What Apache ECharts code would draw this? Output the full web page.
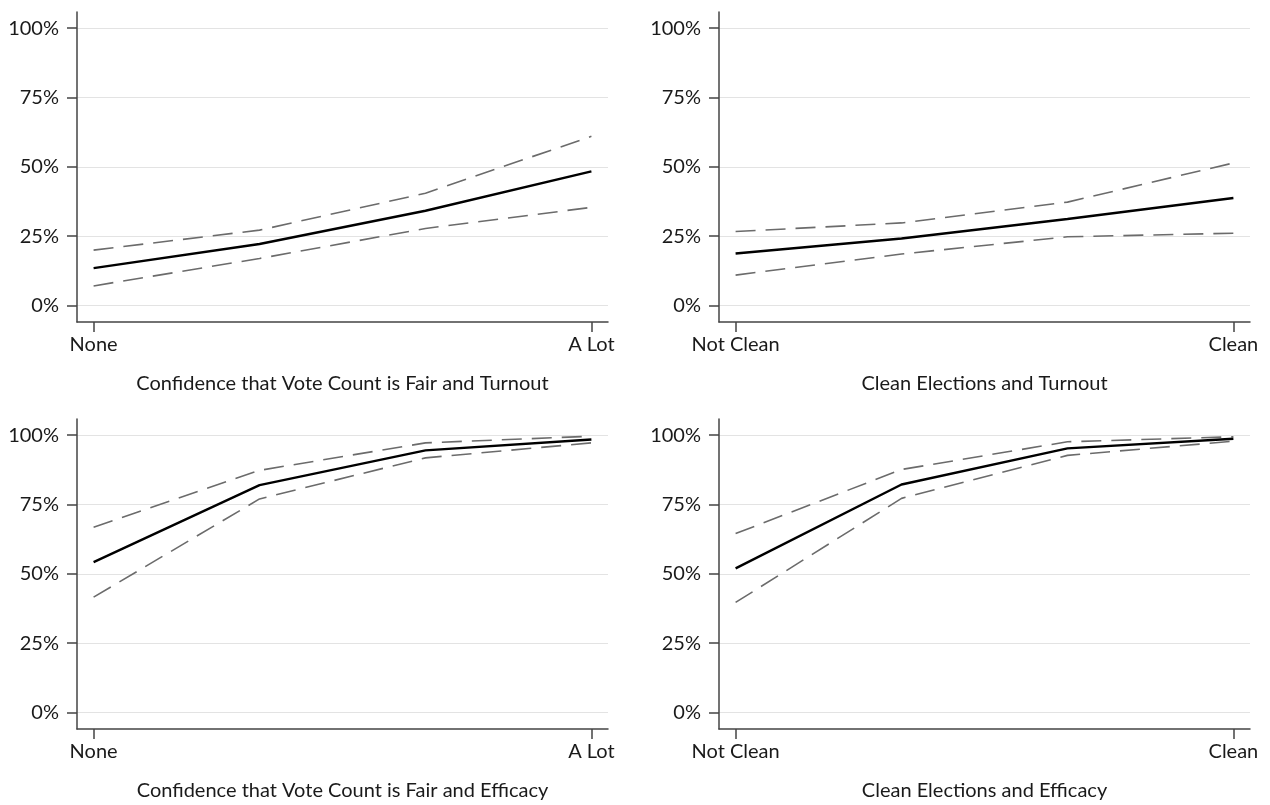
<!DOCTYPE html>
<html>
<head>
<meta charset="utf-8">
<script src="https://cdn.jsdelivr.net/npm/echarts@6/dist/echarts.min.js"></script>
<style>
  html, body { margin: 0; padding: 0; background: #fff; }
  #main { width: 1270px; height: 805px; }
</style>
</head>
<body>
<div id="main"></div>
<script>
// x positions (4 levels, only the ends are labelled)
var levels = [0, 1, 2, 3];
var yTicks = [0, 25, 50, 75, 100];

// panel 1: confidence in vote count -> turnout
var fairTurnout = [13.5, 22.2, 34.2, 48.4];
var fairTurnoutHi = [20.0, 27.2, 40.5, 61.0];
var fairTurnoutLo = [7.1, 17.0, 27.8, 35.4];

// panel 2: clean elections -> turnout
var cleanTurnout = [18.8, 24.2, 31.2, 38.8];
var cleanTurnoutHi = [26.7, 29.8, 37.3, 51.4];
var cleanTurnoutLo = [11.0, 18.6, 24.8, 26.1];

// panel 3: confidence in vote count -> efficacy
var fairEfficacy = [54.2, 82.0, 94.5, 98.4];
var fairEfficacyHi = [66.8, 87.3, 97.2, 99.6];
var fairEfficacyLo = [41.6, 77.0, 91.8, 97.2];

// panel 4: clean elections -> efficacy
var cleanEfficacy = [52.0, 82.2, 95.2, 98.7];
var cleanEfficacyHi = [64.5, 87.6, 97.6, 99.4];
var cleanEfficacyLo = [39.7, 77.2, 92.7, 97.8];

var panels = [
    {title: 'Confidence that Vote Count is Fair and Turnout', ends: ['None', 'A Lot'], mid: fairTurnout, hi: fairTurnoutHi, lo: fairTurnoutLo},
    {title: 'Clean Elections and Turnout', ends: ['Not Clean', 'Clean'], mid: cleanTurnout, hi: cleanTurnoutHi, lo: cleanTurnoutLo},
    {title: 'Confidence that Vote Count is Fair and Efficacy', ends: ['None', 'A Lot'], mid: fairEfficacy, hi: fairEfficacyHi, lo: fairEfficacyLo},
    {title: 'Clean Elections and Efficacy', ends: ['Not Clean', 'Clean'], mid: cleanEfficacy, hi: cleanEfficacyHi, lo: cleanEfficacyLo}
];

var grids = [
    {left: 77, right: 662, top: 12, bottom: 483},
    {left: 719, right: 20, top: 12, bottom: 483},
    {left: 77, right: 662, top: 419, bottom: 76},
    {left: 719, right: 20, top: 419, bottom: 76}
];

var font = 'Lato, "Noto Sans", sans-serif';
var textColor = '#1a1a1a';
var axisColor = '#444';

function pairs(vals) {
    return levels.map(function (x, i) { return [x, vals[i]]; });
}

var xAxes = [], yAxes = [], series = [];
panels.forEach(function (p, i) {
    xAxes.push({
        type: 'value',
        gridIndex: i,
        min: -0.1,
        max: 3.1,
        name: p.title,
        nameLocation: 'middle',
        nameGap: 52,
        nameTextStyle: {fontFamily: font, fontSize: 20, color: textColor},
        axisLine: {show: true, onZero: false, lineStyle: {color: axisColor, width: 1.5}},
        axisTick: {show: true, length: 10, customValues: [0, 3], lineStyle: {color: axisColor, width: 1.5}},
        axisLabel: {
            customValues: [0, 3],
            margin: 13,
            fontFamily: font,
            fontSize: 20,
            color: textColor,
            formatter: function (v) { return v === 0 ? p.ends[0] : p.ends[1]; }
        },
        splitLine: {show: false}
    });
    yAxes.push({
        type: 'value',
        gridIndex: i,
        min: -5.9,
        max: 105.8,
        axisLine: {show: true, onZero: false, lineStyle: {color: axisColor, width: 1.5}},
        axisTick: {show: true, length: 10, customValues: yTicks, lineStyle: {color: axisColor, width: 1.5}},
        axisLabel: {
            customValues: yTicks,
            margin: 18,
            fontFamily: font,
            fontSize: 20,
            color: textColor,
            formatter: '{value}%'
        },
        splitLine: {show: true, lineStyle: {color: '#e3e3e3', width: 1.2}}
    });
    [p.hi, p.lo].forEach(function (band) {
        series.push({
            type: 'line',
            xAxisIndex: i,
            yAxisIndex: i,
            data: pairs(band),
            symbol: 'none',
            silent: true,
            lineStyle: {color: '#6b6b6b', width: 1.6, type: [20, 10]}
        });
    });
    series.push({
        type: 'line',
        xAxisIndex: i,
        yAxisIndex: i,
        data: pairs(p.mid),
        symbol: 'none',
        silent: true,
        lineStyle: {color: '#000', width: 2.4}
    });
});

var myChart = echarts.init(document.getElementById('main'));
var option = {
    backgroundColor: '#fff',
    animation: false,
    grid: grids,
    xAxis: xAxes,
    yAxis: yAxes,
    series: series
};
myChart.setOption(option);
</script>
</body>
</html>
